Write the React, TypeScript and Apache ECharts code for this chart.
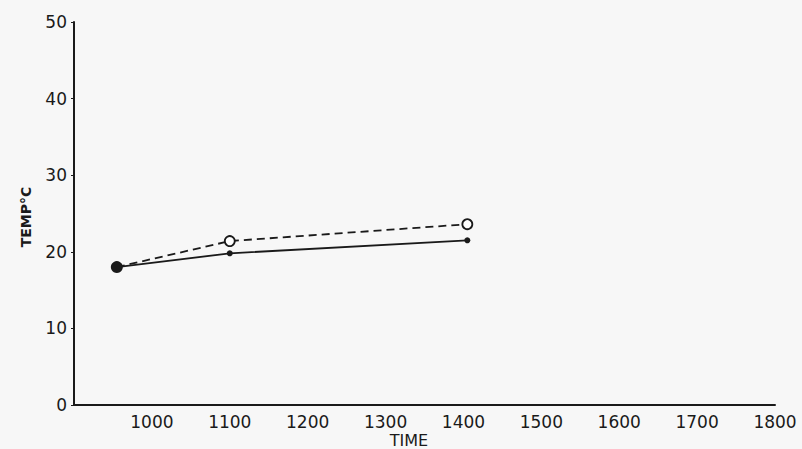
import React, { useEffect, useRef } from "react";
import * as echarts from "echarts";

// Times in decimal hours
const timeHours = [9.55, 11, 14.05];
const solidTemp = [18, 19.8, 21.5];
const dashedTemp = [18, 21.4, 23.6];
const xTickValues = [10, 11, 12, 13, 14, 15, 16, 17, 18];
const xTickLabels = ["1000", "1100", "1200", "1300", "1400", "1500", "1600", "1700", "1800"];
const yTickLabels = ["0", "10", "20", "30", "40", "50"];

const FONT = "DejaVu Sans";
const INK = "#1a1a1a";

export default function App() {
  const ref = useRef<HTMLDivElement>(null);
  useEffect(() => {
    if (!ref.current) return;
    document.body.style.margin = "0";
    const chart = echarts.init(ref.current, null, { renderer: "svg" });
    const solidData = timeHours.map((t, i) => ({
      value: [t, solidTemp[i]],
      symbolSize: i === 0 ? 12 : 6,
    }));
    const dashedData = timeHours.map((t, i) => ({
      value: [t, dashedTemp[i]],
      symbol: i === 0 ? "none" : "circle",
      symbolSize: 10,
    }));
    chart.setOption({
      animation: false,
      backgroundColor: "#f7f7f7",
      grid: { left: 74, right: 27, top: 22, bottom: 44, containLabel: false },
      xAxis: {
        type: "value",
        min: 9,
        max: 18,
        interval: 1,
        axisLine: { show: true, lineStyle: { color: INK, width: 2 } },
        axisTick: { show: false },
        splitLine: { show: false },
        axisLabel: {
          showMinLabel: false,
          margin: 8,
          fontFamily: FONT,
          fontSize: 17,
          color: INK,
          formatter: (v: number) => {
            const idx = xTickValues.indexOf(Math.round(v));
            return idx >= 0 ? xTickLabels[idx] : "";
          },
        },
      },
      yAxis: {
        type: "value",
        min: 0,
        max: 50,
        interval: 10,
        axisLine: { show: true, lineStyle: { color: INK, width: 2 } },
        axisTick: { show: true, length: 3, lineStyle: { color: INK, width: 1 } },
        splitLine: { show: false },
        axisLabel: {
          margin: 7,
          fontFamily: FONT,
          fontSize: 17,
          color: INK,
          formatter: (v: number) => yTickLabels[Math.round(v / 10)] ?? "",
        },
      },
      graphic: [
        {
          type: "text",
          x: 26,
          y: 217,
          rotation: Math.PI / 2,
          style: {
            text: "TEMP°C",
            fontFamily: FONT,
            fontSize: 14,
            fontWeight: "bold",
            fill: INK,
            align: "center",
            verticalAlign: "middle",
          },
        },
        {
          type: "text",
          x: 409,
          y: 440,
          style: {
            text: "TIME",
            fontFamily: FONT,
            fontSize: 16,
            fill: INK,
            align: "center",
            verticalAlign: "middle",
          },
        },
      ],
      series: [
        {
          type: "line",
          data: dashedData,
          z: 2,
          lineStyle: { color: INK, width: 1.8, type: [8, 5] },
          itemStyle: { color: "#ffffff", borderColor: INK, borderWidth: 1.8 },
        },
        {
          type: "line",
          data: solidData,
          symbol: "circle",
          z: 3,
          lineStyle: { color: INK, width: 1.8 },
          itemStyle: { color: INK },
        },
      ],
    });
    return () => chart.dispose();
  }, []);
  return (
    <div
      ref={ref}
      style={{ position: "fixed", left: 0, top: 0, width: 802, height: 449 }}
    />
  );
}
